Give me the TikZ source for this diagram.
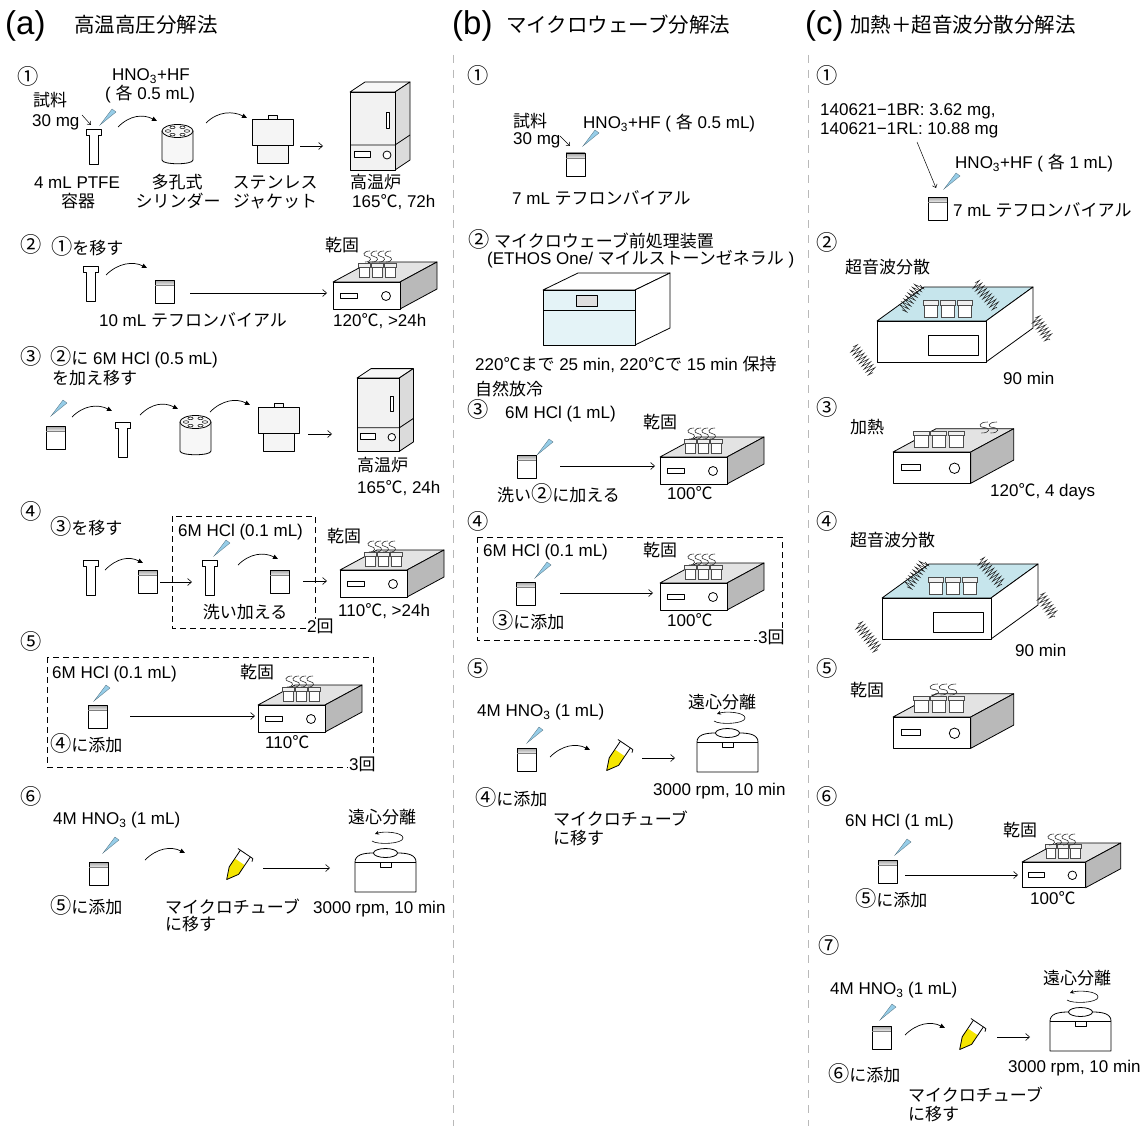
\documentclass[tikz,border=0pt]{standalone}
\usepackage{fontspec}
\setmainfont{Liberation Sans}
\newfontfamily\jpfont{Noto Sans CJK JP}
\newfontfamily\circfont[Scale=1.25]{Noto Sans CJK JP}
\newfontfamily\latfont{Liberation Sans}
\usetikzlibrary{arrows.meta,decorations.pathmorphing}

% switch faces automatically: Japanese characters and circled step numbers
\newXeTeXintercharclass\cjkcls
\newXeTeXintercharclass\circcls
\newcount\cjkcnt
\newcommand\setclass[3]{\cjkcnt=#1\relax
  \loop\XeTeXcharclass\cjkcnt=#3
  \ifnum\cjkcnt<#2\advance\cjkcnt by 1\repeat}
\setclass{"3000}{"30FF}{\cjkcls}
\setclass{"4E00}{"9FFF}{\cjkcls}
\setclass{"FF00}{"FFEF}{\cjkcls}
\setclass{"2103}{"2103}{\cjkcls}
\setclass{"2460}{"24FF}{\circcls}
\XeTeXinterchartoks 0 \cjkcls = {\jpfont}
\XeTeXinterchartoks 4095 \cjkcls = {\jpfont}
\XeTeXinterchartoks \circcls \cjkcls = {\jpfont}
\XeTeXinterchartoks \cjkcls 0 = {\latfont}
\XeTeXinterchartoks \cjkcls 4095 = {\latfont}
\XeTeXinterchartoks 0 \circcls = {\circfont}
\XeTeXinterchartoks 4095 \circcls = {\circfont}
\XeTeXinterchartoks \cjkcls \circcls = {\circfont}
\XeTeXinterchartoks \circcls 0 = {\latfont}
\XeTeXinterchartoks \circcls 4095 = {\latfont}
\XeTeXinterchartokenstate=1

\definecolor{pipblue}{RGB}{150,205,232}
\definecolor{tubeyellow}{RGB}{245,230,0}
\definecolor{bathtop}{RGB}{198,229,236}
\definecolor{mwfront}{RGB}{228,243,247}

\tikzset{
  ic/.style={draw=black, line width=0.8pt, line join=round},
  cupline/.style={draw=gray!60!black, line width=0.6pt},
  steamline/.style={draw=gray!40!black, line width=0.6pt},
  spring/.style={draw=gray!25!black, line width=0.5pt, decorate,
    decoration={zigzag, segment length=3.6pt, amplitude=5pt}},
  lbl/.style={inner sep=0pt, anchor=west, text height=13pt, text depth=4pt},
  clbl/.style={lbl, anchor=center},
  ttl/.style={lbl, font=\fontsize{20.5}{24}\selectfont, text height=17pt, text depth=5pt},
  letter/.style={lbl, font=\fontsize{33}{36}\selectfont, text height=25pt, text depth=8pt},
  rep/.style={lbl, fill=white, inner sep=1pt},
  sarr/.style={-{Straight Barb[length=4pt,width=7pt]}, line width=0.6pt},
  tarr/.style={-{Straight Barb[length=3pt,width=5pt]}, line width=0.5pt},
  carr/.style={-{Triangle[length=5pt,width=4.5pt]}, line width=0.7pt},
  groupbox/.style={draw=black, line width=0.7pt, dash pattern=on 6pt off 4pt},
  sep/.style={draw=gray!55, line width=1pt, dash pattern=on 8pt off 7pt},
  % --- apparatus ---
  pics/tube/.style={code={
    \draw[ic, fill=white] (0,0) -- (15,0) -- (15,6) -- (12,6) -- (12,35)
      -- (3,35) -- (3,6) -- (0,6) -- cycle;
  }},
  pics/vial/.style={code={
    \shade[top color=gray!75, bottom color=gray!15] (0,0) rectangle (19,5);
    \draw[ic] (0,0) rectangle (19,23);
    \draw[gray, line width=0.4pt] (0,5) -- (19,5);
  }},
  pics/pipette/.style={code={
    \filldraw[fill=pipblue, draw=pipblue!55!black, line width=0.3pt]
      (0,0) -- (12,-16) -- (16,-13) -- cycle;
  }},
  pics/cylinder/.style={code={
    \draw[ic, fill=gray!6] (0,7) -- (0,36) .. controls (0,41) and (31,41) .. (31,36) -- (31,7);
    \draw[ic, fill=gray!6] (15.5,7) ellipse [x radius=15.5pt, y radius=6.5pt];
    \foreach \dx/\dy in {9.5/0, 5/3.6, -5/3.6, -9.5/0, -5/-3.6, 5/-3.6}
      \draw[line width=0.5pt, fill=white] (15.5+\dx,7+\dy) ellipse [x radius=2.6pt, y radius=1.3pt];
  }},
  pics/jacket/.style={code={
    \draw[ic, fill=gray!8] (16,-4) rectangle (25,0);
    \draw[ic, fill=gray!8] (0,0) rectangle (41,26);
    \draw[ic, fill=gray!8] (5,26) rectangle (36,44);
  }},
  pics/oven/.style={code={
    \draw[ic, fill=gray!6] (0,0) -- (15,-10) -- (60,-10) -- (45,0) -- cycle;
    \draw[ic, fill=gray!28] (45,0) -- (60,-10) -- (60,68) -- (45,78) -- cycle;
    \draw[ic, fill=gray!10] (0,0) rectangle (45,78);
    \draw[ic] (0,53) -- (45,53) -- (60,43);
    \draw[ic, fill=white] (4,59) rectangle (20,65);
    \draw[ic, fill=white] (37,63) circle (4pt);
    \draw[ic, fill=white] (36,20) rectangle (39,36);
  }},
  pics/hotplate/.style={code={
    \draw[ic, fill=gray!22] (0,0) -- (37,-20) -- (104,-20) -- (67,0) -- cycle;
    \draw[ic, fill=gray!55] (67,0) -- (104,-20) -- (104,7) -- (67,27) -- cycle;
    \draw[ic, fill=white] (0,0) rectangle (67,27);
    \draw[ic, fill=white] (7,11) rectangle (24,16);
    \draw[ic, fill=white] (53,14) circle (4.5pt);
  }},
  pics/cups/.style={code={
    \foreach \i in {0,1,2} {
      \draw[cupline, fill=white] ({\i*13+1},0) rectangle ({\i*13+11},-10);
      \draw[cupline, fill=gray!12] ({\i*13},-10) rectangle ({\i*13+12},-14);
    }
  }},
  pics/steam/.style={code={
    \foreach \k [evaluate=\k as \sx using (\k-1)*7] in {1,...,#1}
      \draw[steamline] (\sx-2,0) .. controls (\sx+5,0) and (\sx+5,-5) .. (\sx,-5.5)
        .. controls (\sx-5,-6) and (\sx-4,-11) .. (\sx+3,-11);
  }},
  pics/bath/.style={code={
    \draw[ic, fill=bathtop] (0,0) -- (47,-34) -- (156,-34) -- (109,0) -- cycle;
    \draw[ic, fill=white] (109,0) -- (156,-34) -- (156,7) -- (109,41) -- cycle;
    \draw[ic, fill=white] (0,0) rectangle (109,41);
    \draw[ic] (51,14) rectangle (101,34);
    \pic[xscale=1.3, yscale=1.2] at (46,-4) {cups};
    \draw[spring] (43,-36) -- (25,-11);
    \draw[spring] (98,-38) -- (120,-13);
    \draw[spring] (-24,26) -- (-4,52);
    \draw[spring] (158,-3) -- (173,19);
  }},
  pics/microwave/.style={code={
    \draw[ic, fill=white] (0,0) -- (35,-17) -- (127,-17) -- (92,0) -- cycle;
    \draw[ic, fill=white] (92,0) -- (127,-17) -- (127,38) -- (92,55) -- cycle;
    \draw[ic, fill=mwfront] (0,0) rectangle (92,55);
    \draw[ic] (0,20) -- (92,20);
    \draw[ic, fill=gray!25] (33,5) rectangle (54,16);
  }},
  pics/centrifuge/.style={code={
    \draw[ic, fill=white] (0,30) -- (0,0) .. controls (0,-7) and (8,-9) .. (18,-9)
      -- (43,-9) .. controls (53,-9) and (61,-7) .. (61,0) -- (61,30) -- cycle;
    \draw[ic] (0,0) -- (61,0);
    \draw[ic, fill=white] (30.5,-9) ellipse [x radius=12pt, y radius=4.5pt];
    \draw[ic, fill=white] (25,0) rectangle (36,5);
    \draw[line width=0.6pt, -{Stealth[length=4pt,width=4pt]}]
      (17,-21) .. controls (22,-17) and (48,-18) .. (48,-24)
      .. controls (48,-30) and (28,-31) .. (20,-28);
  }},
  pics/mtube/.style={code={
    \fill[tubeyellow] (-6,-5) -- (-6,5) -- (-1,17) -- (6,6) -- (6,-5) -- cycle;
    \draw[ic] (-6,-15) -- (-6,5) -- (-1,17) -- (6,6) -- (6,-15);
    \draw[ic] (-9,-15) -- (9,-15) -- (10,-12);
  }},
}

\newcommand\bendarrow[2]{\draw[carr] (#1) .. controls +(12,-12) and +(-14,-7) .. (#2);}

\begin{document}
\begin{tikzpicture}[x=1pt, y=-1pt, font=\fontsize{17}{20}\selectfont]
\fill[white] (0,0) rectangle (1147,1126);
\useasboundingbox (0,0) rectangle (1147,1126);

% column separators
\coordinate (sepAtop) at (453,55);  \coordinate (sepAbot) at (453,1126);
\coordinate (sepBtop) at (808,55);  \coordinate (sepBbot) at (808,1126);
\draw[sep] (sepAtop) -- (sepAbot);
\draw[sep] (sepBtop) -- (sepBbot);

% ================= (a) =================
\node[letter] (a-let) at (5,26) {(a)};
\node[ttl] (a-ttl) at (74,27) {高温高圧分解法};

% step 1
\node[lbl] (a1-n) at (17,80) {①};
\node[lbl] (a1-hno) at (112,76) {HNO\textsubscript{3}+HF};
\node[lbl] (a1-vol) at (105,95) {( 各 0.5 mL)};
\node[lbl] (a1-smp) at (33,102) {試料};
\node[lbl] (a1-mg) at (32,122) {30 mg};
\pic at (86,129) {tube};
\pic at (100,125) {pipette};
\pic at (162,124) {cylinder};
\pic at (252,119) {jacket};
\pic at (350,92) {oven};
\coordinate (a1-s0) at (82,115); \coordinate (a1-s1) at (91,125);
\draw[tarr] (a1-s0) -- (a1-s1);
\coordinate (a1-c1s) at (118,127); \coordinate (a1-c1e) at (157,121);
\coordinate (a1-c2s) at (206,123); \coordinate (a1-c2e) at (247,118);
\bendarrow{a1-c1s}{a1-c1e}
\bendarrow{a1-c2s}{a1-c2e}
\coordinate (a1-a0) at (300,146); \coordinate (a1-a1) at (323,146);
\draw[sarr] (a1-a0) -- (a1-a1);
\node[clbl] (a1-ptfe) at (77,184) {4 mL PTFE};
\node[clbl] (a1-cont) at (78,203) {容器};
\node[clbl] (a1-cyl1) at (177,184) {多孔式};
\node[clbl] (a1-cyl2) at (178,203) {シリンダー};
\node[clbl] (a1-jk1) at (275,184) {ステンレス};
\node[clbl] (a1-jk2) at (275,203) {ジャケット};
\node[lbl] (a1-ov) at (350,184) {高温炉};
\node[lbl] (a1-tc) at (352,203) {165℃, 72h};

% step 2
\node[lbl] (a2-n) at (20,248) {②};
\node[lbl] (a2-t) at (51,250) {①を移す};
\pic at (83,266) {tube};
\pic at (155,280) {vial};
\pic at (333,282) {hotplate};
\pic at (358,277) {cups};
\pic at (367,262) {steam=4};
\coordinate (a2-c1s) at (106,275); \coordinate (a2-c1e) at (147,268);
\bendarrow{a2-c1s}{a2-c1e}
\coordinate (a2-a0) at (190,293); \coordinate (a2-a1) at (327,293);
\draw[sarr] (a2-a0) -- (a2-a1);
\node[clbl] (a2-vl) at (193,322) {10 mL テフロンバイアル};
\node[lbl] (a2-dry) at (325,247) {乾固};
\node[lbl] (a2-tc) at (333,322) {120℃, >24h};

% step 3
\node[lbl] (a3-n) at (20,360) {③};
\node[lbl] (a3-t1) at (50,360) {②に 6M HCl (0.5 mL)};
\node[lbl] (a3-t2) at (52,380) {を加え移す};
\pic at (51,416) {pipette};
\pic at (46,426) {vial};
\pic at (115,422) {tube};
\pic at (180,415) {cylinder};
\pic at (258,407) {jacket};
\pic[scale=0.94] at (357,378) {oven};
\coordinate (a3-c1s) at (72,417); \coordinate (a3-c1e) at (112,411);
\coordinate (a3-c2s) at (140,415); \coordinate (a3-c2e) at (178,409);
\coordinate (a3-c3s) at (210,412); \coordinate (a3-c3e) at (250,405);
\bendarrow{a3-c1s}{a3-c1e}
\bendarrow{a3-c2s}{a3-c2e}
\bendarrow{a3-c3s}{a3-c3e}
\coordinate (a3-a0) at (308,434); \coordinate (a3-a1) at (332,434);
\draw[sarr] (a3-a0) -- (a3-a1);
\node[lbl] (a3-ov) at (357,467) {高温炉};
\node[lbl] (a3-tc) at (357,489) {165℃, 24h};

% step 4
\node[lbl] (a4-n) at (20,515) {④};
\node[lbl] (a4-t) at (50,530) {③を移す};
\draw[groupbox] (172,516) rectangle (315,628);
\node[lbl] (a4-hcl) at (178,532) {6M HCl (0.1 mL)};
\pic at (83,560) {tube};
\pic at (138,570) {vial};
\pic at (214,556) {pipette};
\pic at (202,560) {tube};
\pic at (270,570) {vial};
\pic at (340,570) {hotplate};
\pic at (364,566) {cups};
\pic at (371,552) {steam=4};
\coordinate (a4-c1s) at (105,570); \coordinate (a4-c1e) at (143,563);
\coordinate (a4-c2s) at (238,565); \coordinate (a4-c2e) at (278,559);
\bendarrow{a4-c1s}{a4-c1e}
\bendarrow{a4-c2s}{a4-c2e}
\coordinate (a4-a0) at (160,582); \coordinate (a4-a1) at (192,582);
\coordinate (a4-b0) at (303,581); \coordinate (a4-b1) at (327,581);
\draw[sarr] (a4-a0) -- (a4-a1);
\draw[sarr] (a4-b0) -- (a4-b1);
\node[clbl] (a4-wash) at (245,614) {洗い加える};
\node[rep] (a4-rep) at (306,628) {2回};
\node[lbl] (a4-dry) at (327,538) {乾固};
\node[lbl] (a4-tc) at (338,612) {110℃, >24h};

% step 5
\node[lbl] (a5-n) at (20,645) {⑤};
\draw[groupbox] (47,657) rectangle (373,767);
\node[lbl] (a5-hcl) at (52,674) {6M HCl (0.1 mL)};
\node[lbl] (a5-dry) at (240,674) {乾固};
\pic at (94,701) {pipette};
\pic at (88,705) {vial};
\pic at (258,705) {hotplate};
\pic at (282,701) {cups};
\pic at (289,687) {steam=4};
\coordinate (a5-a0) at (130,716); \coordinate (a5-a1) at (255,716);
\draw[sarr] (a5-a0) -- (a5-a1);
\node[lbl] (a5-add) at (50,747) {④に添加};
\node[lbl] (a5-tc) at (265,744) {110℃};
\node[rep] (a5-rep) at (348,766) {3回};

% step 6
\node[lbl] (a6-n) at (20,800) {⑥};
\node[lbl] (a6-hno) at (53,820) {4M HNO\textsubscript{3} (1 mL)};
\node[lbl] (a6-cf) at (348,819) {遠心分離};
\pic at (103,853) {pipette};
\pic at (89,862) {vial};
\pic[rotate=-34] at (237,866) {mtube};
\pic at (355,862) {centrifuge};
\coordinate (a6-c1s) at (145,860); \coordinate (a6-c1e) at (185,853);
\bendarrow{a6-c1s}{a6-c1e}
\coordinate (a6-a0) at (263,868); \coordinate (a6-a1) at (330,868);
\draw[sarr] (a6-a0) -- (a6-a1);
\node[lbl] (a6-add) at (50,909) {⑤に添加};
\node[lbl] (a6-mt1) at (165,909) {マイクロチューブ};
\node[lbl] (a6-mt2) at (165,926) {に移す};
\node[lbl] (a6-rpm) at (313,909) {3000 rpm, 10 min};

% ================= (b) =================
\node[letter] (b-let) at (452,26) {(b)};
\node[ttl] (b-ttl) at (506,27) {マイクロウェーブ分解法};

% step 1
\node[lbl] (b1-n) at (467,79) {①};
\node[lbl] (b1-smp) at (513,123) {試料};
\node[lbl] (b1-mg) at (513,140) {30 mg};
\node[lbl] (b1-hno) at (583,124) {HNO\textsubscript{3}+HF ( 各 0.5 mL)};
\pic at (583,146) {pipette};
\pic at (566,153) {vial};
\coordinate (b1-s0) at (560,136); \coordinate (b1-s1) at (570,146);
\draw[tarr] (b1-s0) -- (b1-s1);
\node[lbl] (b1-vl) at (512,200) {7 mL テフロンバイアル};

% step 2
\node[lbl] (b2-t1) at (468,243) {② マイクロウェーブ前処理装置};
\node[lbl] (b2-t2) at (487,260) {(ETHOS One/ マイルストーンゼネラル )};
\pic at (543,290) {microwave};
\node[lbl] (b2-c1) at (475,366) {220℃まで 25 min, 220℃で 15 min 保持};
\node[lbl] (b2-c2) at (475,391) {自然放冷};

% step 3
\node[lbl] (b3-n) at (467,413) {③};
\node[lbl] (b3-hcl) at (505,414) {6M HCl (1 mL)};
\node[lbl] (b3-dry) at (643,424) {乾固};
\pic at (537,455) {pipette};
\pic at (517,455) {vial};
\pic at (660,457) {hotplate};
\pic at (684,453) {cups};
\pic at (691,439) {steam=4};
\coordinate (b3-a0) at (560,466); \coordinate (b3-a1) at (655,466);
\draw[sarr] (b3-a0) -- (b3-a1);
\node[lbl] (b3-wash) at (497,497) {洗い②に加える};
\node[lbl] (b3-tc) at (667,495) {100℃};

% step 4
\node[lbl] (b4-n) at (467,525) {④};
\draw[groupbox] (477,537) rectangle (782,640);
\node[lbl] (b4-hcl) at (483,552) {6M HCl (0.1 mL)};
\node[lbl] (b4-dry) at (643,552) {乾固};
\pic at (535,578) {pipette};
\pic at (516,582) {vial};
\pic at (660,583) {hotplate};
\pic at (684,579) {cups};
\pic at (691,565) {steam=4};
\coordinate (b4-a0) at (560,593); \coordinate (b4-a1) at (653,593);
\draw[sarr] (b4-a0) -- (b4-a1);
\node[lbl] (b4-add) at (492,624) {③に添加};
\node[lbl] (b4-tc) at (667,622) {100℃};
\node[rep] (b4-rep) at (757,639) {3回};

% step 5
\node[lbl] (b5-n) at (467,672) {⑤};
\node[lbl] (b5-hno) at (477,712) {4M HNO\textsubscript{3} (1 mL)};
\node[lbl] (b5-cf) at (688,704) {遠心分離};
\pic at (527,743) {pipette};
\pic at (517,748) {vial};
\pic[rotate=-34] at (617,757) {mtube};
\pic at (697,742) {centrifuge};
\coordinate (b5-c1s) at (550,757); \coordinate (b5-c1e) at (590,750);
\bendarrow{b5-c1s}{b5-c1e}
\coordinate (b5-a0) at (642,758); \coordinate (b5-a1) at (675,758);
\draw[sarr] (b5-a0) -- (b5-a1);
\node[lbl] (b5-rpm) at (653,791) {3000 rpm, 10 min};
\node[lbl] (b5-add) at (475,801) {④に添加};
\node[lbl] (b5-mt1) at (553,821) {マイクロチューブ};
\node[lbl] (b5-mt2) at (553,840) {に移す};

% ================= (c) =================
\node[letter] (c-let) at (805,26) {(c)};
\node[ttl] (c-ttl) at (850,27) {加熱＋超音波分散分解法};

% step 1
\node[lbl] (c1-n) at (816,79) {①};
\node[lbl] (c1-s1) at (820,111) {140621−1BR: 3.62 mg,};
\node[lbl] (c1-s2) at (820,130) {140621−1RL: 10.88 mg};
\node[lbl] (c1-hno) at (955,164) {HNO\textsubscript{3}+HF ( 各 1 mL)};
\pic at (944,189) {pipette};
\pic at (928,197) {vial};
\coordinate (c1-s0) at (917,142); \coordinate (c1-s1e) at (936,188);
\draw[tarr] (c1-s0) -- (c1-s1e);
\node[lbl] (c1-vl) at (953,212) {7 mL テフロンバイアル};

% step 2
\node[lbl] (c2-n) at (816,246) {②};
\node[lbl] (c2-t) at (845,269) {超音波分散};
\pic at (877,321) {bath};
\node[lbl] (c2-tm) at (1003,380) {90 min};

% step 3
\node[lbl] (c3-n) at (816,411) {③};
\node[lbl] (c3-t) at (850,429) {加熱};
\pic[scale=1.16] at (893,452) {hotplate};
\pic[xscale=1.35, yscale=1.15] at (913,447) {cups};
\pic[xscale=1.3] at (984,433) {steam=2};
\node[lbl] (c3-tc) at (990,492) {120℃, 4 days};

% step 4
\node[lbl] (c4-n) at (816,525) {④};
\node[lbl] (c4-t) at (850,542) {超音波分散};
\pic at (882,598) {bath};
\node[lbl] (c4-tm) at (1015,652) {90 min};

% step 5
\node[lbl] (c5-n) at (816,672) {⑤};
\node[lbl] (c5-t) at (850,692) {乾固};
\pic[scale=1.16] at (893,717) {hotplate};
\pic[xscale=1.35, yscale=1.15] at (913,712) {cups};
\pic[xscale=1.3] at (934,695) {steam=3};

% step 6
\node[lbl] (c6-n) at (816,800) {⑥};
\node[lbl] (c6-hcl) at (845,822) {6N HCl (1 mL)};
\node[lbl] (c6-dry) at (1003,832) {乾固};
\pic at (895,855) {pipette};
\pic at (878,860) {vial};
\pic[scale=0.95] at (1022,862) {hotplate};
\pic[scale=0.95] at (1045,858) {cups};
\pic at (1051,845) {steam=4};
\coordinate (c6-a0) at (905,875); \coordinate (c6-a1) at (1018,875);
\draw[sarr] (c6-a0) -- (c6-a1);
\node[lbl] (c6-add) at (855,902) {⑤に添加};
\node[lbl] (c6-tc) at (1030,900) {100℃};

% step 7
\node[lbl] (c7-n) at (818,949) {⑦};
\node[lbl] (c7-hno) at (830,990) {4M HNO\textsubscript{3} (1 mL)};
\node[lbl] (c7-cf) at (1043,980) {遠心分離};
\pic at (880,1020) {pipette};
\pic at (872,1026) {vial};
\pic[rotate=-34] at (970,1036) {mtube};
\pic at (1050,1021) {centrifuge};
\coordinate (c7-c1s) at (905,1035); \coordinate (c7-c1e) at (945,1028);
\bendarrow{c7-c1s}{c7-c1e}
\coordinate (c7-a0) at (997,1037); \coordinate (c7-a1) at (1030,1037);
\draw[sarr] (c7-a0) -- (c7-a1);
\node[lbl] (c7-rpm) at (1008,1068) {3000 rpm, 10 min};
\node[lbl] (c7-add) at (828,1077) {⑥に添加};
\node[lbl] (c7-mt1) at (908,1097) {マイクロチューブ};
\node[lbl] (c7-mt2) at (908,1116) {に移す};
\end{tikzpicture}
\end{document}
